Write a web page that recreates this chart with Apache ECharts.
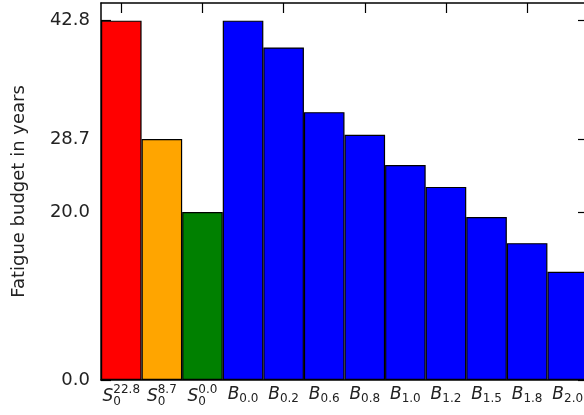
<!DOCTYPE html>
<html>
<head>
<meta charset="utf-8">
<script src="https://cdn.jsdelivr.net/npm/echarts@6/dist/echarts.min.js"></script>
<style>
html,body{margin:0;padding:0;background:#fff;}
#chart{width:584px;height:415px;}
</style>
</head>
<body>
<div id="chart"></div>
<script>
// Category label parts
const labelMain = ['S','S','S','B','B','B','B','B','B','B','B','B'];
const labelSub  = ['0','0','0','0.0','0.2','0.6','0.8','1.0','1.2','1.5','1.8','2.0'];
const labelSup  = ['22.8','8.7','0.0','','','','','','','','',''];
// Bar values (years)
const values = [42.8, 28.7, 20.0, 42.8, 39.6, 31.9, 29.2, 25.6, 23.0, 19.4, 16.3, 12.9];
const barColors = ['#ff0000','#ffa500','#008000','#0000ff','#0000ff','#0000ff','#0000ff','#0000ff','#0000ff','#0000ff','#0000ff','#0000ff'];
// Y tick values
const yTicks = [0.0, 20.0, 28.7, 42.8];
const yMax = 44.9;

const categories = labelMain.map((m, i) => m + '_' + labelSub[i] + (labelSup[i] ? '^' + labelSup[i] : ''));

const chart = echarts.init(document.getElementById('chart'), null, {renderer: 'canvas'});
const txt = '#222';
const font = 'DejaVu Sans';

const option = {
  animation: false,
  backgroundColor: '#fff',
  grid: {left: 101, top: 3, width: 487, height: 377, containLabel: false, outerBoundsMode: 'none'},
  xAxis: [{
    type: 'category',
    data: categories,
    position: 'bottom',
    axisLine: {show: true, onZero: false, lineStyle: {color: '#000', width: 1.5}},
    axisTick: {show: true, inside: true, length: 10, alignWithLabel: true, lineStyle: {color: '#000', width: 1.2}},
    splitLine: {show: false},
    axisLabel: {
      interval: 0,
      margin: 4,
      color: txt,
      fontFamily: font,
      formatter: function (v, i) {
        if (labelSup[i]) {
          return '{ms|' + labelMain[i] + '}{sz|' + labelSub[i] + '}{sp|' + labelSup[i] + '}';
        }
        return '{mb|' + labelMain[i] + '}{sb|' + labelSub[i] + '}';
      },
      rich: {
        ms: {fontSize: 17, fontStyle: 'italic', fontFamily: font, color: txt, lineHeight: 24, verticalAlign: 'middle', align: 'left', padding: [2, 0, 0, 0]},
        mb: {fontSize: 17, fontStyle: 'italic', fontFamily: font, color: txt, lineHeight: 24, verticalAlign: 'middle', align: 'left', padding: [0, 0, 2, 0]},
        sb: {fontSize: 12, fontFamily: font, color: txt, lineHeight: 12, verticalAlign: 'middle', align: 'left', padding: [6, 0, 0, 0]},
        sz: {fontSize: 12, fontFamily: font, color: txt, lineHeight: 6, verticalAlign: 'bottom', width: 0, align: 'left'},
        sp: {fontSize: 12, fontFamily: font, color: txt, lineHeight: 11, verticalAlign: 'top', align: 'left'}
      }
    }
  }, {
    type: 'category',
    data: categories,
    position: 'top',
    axisLine: {show: true, onZero: false, lineStyle: {color: '#000', width: 1.5}},
    axisTick: {show: true, inside: true, length: 10, alignWithLabel: true, lineStyle: {color: '#000', width: 1.2}},
    axisLabel: {show: false},
    splitLine: {show: false}
  }],
  yAxis: [{
    type: 'value',
    min: 0,
    max: yMax,
    position: 'left',
    name: 'Fatigue budget in years',
    nameLocation: 'middle',
    nameRotate: 90,
    nameGap: 73,
    nameTextStyle: {fontSize: 18, fontFamily: font, color: txt},
    axisLine: {show: true, onZero: false, lineStyle: {color: '#000', width: 1.5}},
    axisTick: {show: true, inside: true, length: 10, customValues: yTicks, lineStyle: {color: '#000', width: 1.2}},
    splitLine: {show: false},
    axisLabel: {
      customValues: yTicks,
      margin: 11,
      fontSize: 18,
      fontFamily: font,
      color: txt,
      formatter: v => Number(v).toFixed(1)
    }
  }, {
    type: 'value',
    min: 0,
    max: yMax,
    position: 'right',
    axisLine: {show: true, onZero: false, lineStyle: {color: '#000', width: 1.5}},
    axisTick: {show: true, inside: true, length: 10, customValues: yTicks, lineStyle: {color: '#000', width: 1.2}},
    splitLine: {show: false},
    axisLabel: {show: false}
  }],
  series: [{
    type: 'bar',
    xAxisIndex: 0,
    yAxisIndex: 0,
    barCategoryGap: '0%',
    data: values.map((v, i) => ({value: v, itemStyle: {color: barColors[i]}})),
    itemStyle: {borderColor: '#000', borderWidth: 1.2}
  }]
};
chart.setOption(option);
</script>
</body>
</html>
